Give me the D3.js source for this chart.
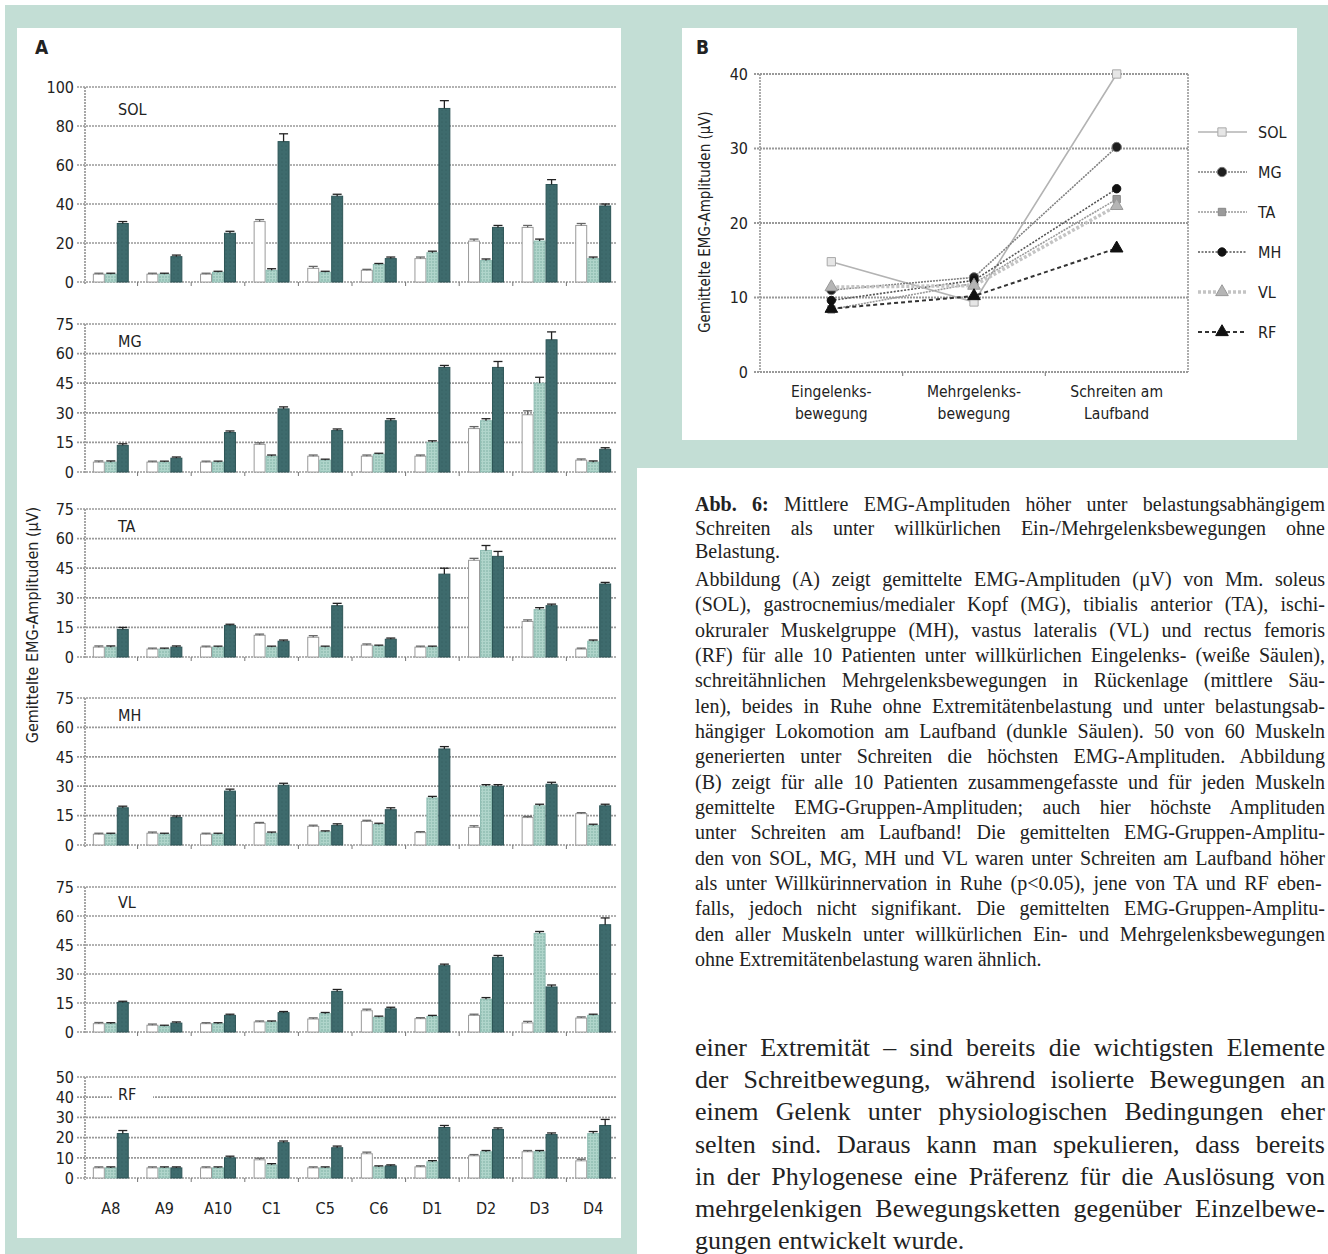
<!DOCTYPE html>
<html>
<head>
<meta charset="utf-8">
<script src="https://cdn.jsdelivr.net/npm/d3@7"></script>
<style>
  html, body { margin: 0; padding: 0; background: #fff; }
  #page { position: relative; width: 1328px; height: 1254px; overflow: hidden; }
  svg { display: block; }
  .sans { font-family: "DejaVu Sans Condensed", "DejaVu Sans", sans-serif; font-stretch: condensed; fill: #222; }
  .serif { font-family: "Liberation Serif", "Times New Roman", serif; fill: #222; }
</style>
</head>
<body>
<div id="page"></div>
<script>
// ---------- data: panel A (per patient, three movement conditions) ----------
const patients = ["A8", "A9", "A10", "C1", "C5", "C6", "D1", "D2", "D3", "D4"];

const solEin  = [4, 4, 4, 31, 7, 6, 12, 21, 28, 29];
const solMehr = [4, 4, 5, 6, 5, 9, 15, 11, 21, 12];
const solSchr = [30, 13, 25, 72, 44, 12, 89, 28, 50, 39];
const solErr  = [[0.5, 0.5, 0.5, 1, 1, 0.5, 0.8, 1, 1, 1],
                 [0.5, 0.5, 0.5, 0.8, 0.5, 0.5, 0.8, 0.8, 1, 0.8],
                 [1, 0.8, 1, 4, 1, 0.8, 4, 1, 2.5, 1]];

const mgEin  = [5, 5, 5, 14, 8, 8, 8, 22, 29, 6];
const mgMehr = [5, 5, 5, 8, 6, 9, 15, 26, 45, 5];
const mgSchr = [13.5, 7, 20, 32, 21, 26, 53, 53, 67, 11.5];
const mgErr  = [[0.6, 0.5, 0.5, 0.8, 0.6, 0.6, 0.6, 1, 2, 0.6],
                [0.6, 0.5, 0.5, 0.6, 0.5, 0.5, 0.8, 1, 3, 0.6],
                [0.8, 0.6, 0.8, 1, 0.8, 1, 1, 3, 4, 0.8]];

const taEin  = [5, 4, 5, 11, 10, 6, 5, 49, 18, 4];
const taMehr = [5, 4, 5, 5, 5, 5.5, 5, 54, 24, 8];
const taSchr = [14, 5, 16, 8, 26, 9, 42, 51, 26, 37];
const taErr  = [[0.6, 0.5, 0.5, 0.6, 0.8, 0.6, 0.5, 1, 0.8, 0.5],
                [0.6, 0.5, 0.5, 0.5, 0.5, 0.5, 0.5, 2.5, 1, 0.6],
                [1, 0.6, 0.6, 0.6, 1.2, 0.6, 3, 2.5, 0.8, 0.8]];

const mhEin  = [5.5, 6, 5.5, 11, 9.5, 12, 6.3, 9, 14, 16];
const mhMehr = [5.5, 5.5, 5.5, 6, 6.7, 10.5, 24, 30, 20, 10];
const mhSchr = [19, 14, 27.5, 30.5, 10, 18, 49, 30, 31, 20];
const mhErr  = [[0.5, 0.6, 0.5, 0.5, 0.6, 0.6, 0.5, 0.8, 0.6, 0.5],
                [0.5, 0.5, 0.5, 0.6, 0.5, 0.6, 0.8, 0.8, 0.8, 0.6],
                [0.8, 0.8, 1, 1, 0.8, 1, 1.2, 0.8, 1, 0.8]];

const vlEin  = [4.3, 3.5, 4.3, 5.2, 6.7, 11, 6.9, 8.6, 4.7, 7.2];
const vlMehr = [4.3, 3, 4.3, 5.2, 9.5, 7.6, 8, 17, 51, 8.6];
const vlSchr = [15.3, 4.6, 8.6, 10, 21, 12, 34.3, 38.6, 23.3, 55.5];
const vlErr  = [[0.6, 0.6, 0.5, 0.5, 0.6, 0.8, 0.5, 0.6, 0.8, 0.6],
                [0.5, 0.5, 0.5, 0.5, 0.6, 0.6, 0.6, 0.8, 1, 0.6],
                [0.6, 0.6, 0.6, 0.6, 1, 0.8, 0.8, 1, 1, 3.5]];

const rfEin  = [5, 5, 5, 9, 5, 12, 5.5, 11, 13, 8.5];
const rfMehr = [5, 5, 5, 6.5, 5, 5.5, 8, 13, 13, 22];
const rfSchr = [22, 5, 10, 17.5, 15, 6, 25, 24, 21.5, 26];
const rfErr  = [[0.5, 0.5, 0.5, 0.8, 0.5, 0.8, 0.5, 0.6, 0.6, 0.8],
                [0.5, 0.5, 0.5, 0.6, 0.5, 0.5, 0.6, 0.6, 0.6, 1],
                [1.5, 0.5, 0.8, 0.8, 0.8, 0.5, 1, 0.8, 0.8, 3]];

// ---------- data: panel B (group means per muscle) ----------
const bConditions = ["Eingelenks-|bewegung", "Mehrgelenks-|bewegung", "Schreiten am|Laufband"];
const bMuscles = ["SOL", "MG", "TA", "MH", "VL", "RF"];
const solMean = [14.8, 9.4, 40.0];
const mgMean  = [11.0, 12.7, 30.2];
const taMean  = [8.4, 11.9, 23.2];
const mhMean  = [9.6, 12.3, 24.6];
const vlMean  = [11.4, 11.6, 22.3];
const rfMean  = [8.5, 10.2, 16.6];
const bTicks  = [0, 10, 20, 30, 40];

// ---------- text ----------
const captionLines = [
  [["Abb. 6:", true], [" Mittlere EMG-Amplituden höher unter belastungsabhängigem", false]],
  [["Schreiten als unter willkürlichen Ein-/Mehrgelenksbewegungen ohne", false]],
  [["Belastung.", false]],
  [["Abbildung (A) zeigt gemittelte EMG-Amplituden (µV) von Mm. soleus", false]],
  [["(SOL), gastrocnemius/medialer Kopf (MG), tibialis anterior (TA), ischi-", false]],
  [["okruraler Muskelgruppe (MH), vastus lateralis (VL) und rectus femoris", false]],
  [["(RF) für alle 10 Patienten unter willkürlichen Eingelenks- (weiße Säulen),", false]],
  [["schreitähnlichen Mehrgelenksbewegungen in Rückenlage (mittlere Säu-", false]],
  [["len), beides in Ruhe ohne Extremitätenbelastung und unter belastungsab-", false]],
  [["hängiger Lokomotion am Laufband (dunkle Säulen). 50 von 60 Muskeln", false]],
  [["generierten unter Schreiten die höchsten EMG-Amplituden. Abbildung", false]],
  [["(B) zeigt für alle 10 Patienten zusammengefasste und für jeden Muskeln", false]],
  [["gemittelte EMG-Gruppen-Amplituden; auch hier höchste Amplituden", false]],
  [["unter Schreiten am Laufband! Die gemittelten EMG-Gruppen-Amplitu-", false]],
  [["den von SOL, MG, MH und VL waren unter Schreiten am Laufband höher", false]],
  [["als unter Willkürinnervation in Ruhe (p<0.05), jene  von TA und RF eben-", false]],
  [["falls, jedoch nicht signifikant. Die gemittelten EMG-Gruppen-Amplitu-", false]],
  [["den aller Muskeln unter willkürlichen Ein- und Mehrgelenksbewegungen", false]],
  [["ohne Extremitätenbelastung waren ähnlich.", false]]
];
const captionLast = [2, 18];
const bodyLines = [
  "einer Extremität – sind bereits die wichtigsten Elemente",
  "der Schreitbewegung, während isolierte Bewegungen an",
  "einem Gelenk unter physiologischen Bedingungen eher",
  "selten sind. Daraus kann man spekulieren, dass bereits",
  "in der Phylogenese eine Präferenz für die Auslösung von",
  "mehrgelenkigen Bewegungsketten gegenüber Einzelbewe-",
  "gungen entwickelt wurde."
];

// ---------- drawing ----------
const W = 1328, H = 1254;
const GREEN = "#c3ded5";
const svg = d3.select("#page").append("svg").attr("width", W).attr("height", H);

const defs = svg.append("defs");
const pl = defs.append("pattern").attr("id", "lightDots").attr("patternUnits", "userSpaceOnUse")
  .attr("width", 3).attr("height", 3);
pl.append("rect").attr("width", 3).attr("height", 3).attr("fill", "#b0d5cb");
pl.append("circle").attr("cx", 1).attr("cy", 1).attr("r", 0.75).attr("fill", "#78aa9f");
const pd = defs.append("pattern").attr("id", "darkDots").attr("patternUnits", "userSpaceOnUse")
  .attr("width", 4).attr("height", 4);
pd.append("rect").attr("width", 4).attr("height", 4).attr("fill", "#3e6b6d");
pd.append("circle").attr("cx", 2).attr("cy", 2).attr("r", 0.6).attr("fill", "#2f5759");

// frame
svg.append("rect").attr("x", 5).attr("y", 5).attr("width", W - 5).attr("height", H - 5).attr("fill", GREEN);
svg.append("rect").attr("x", 637).attr("y", 468).attr("width", W - 637).attr("height", H - 468).attr("fill", "#fff");
svg.append("rect").attr("x", 17).attr("y", 28).attr("width", 604).attr("height", 1210).attr("fill", "#fff");
svg.append("rect").attr("x", 682).attr("y", 28).attr("width", 615).attr("height", 412).attr("fill", "#fff");

// ---------- panel A ----------
const gA = svg.append("g");
gA.append("text").attr("class", "sans").attr("x", 35).attr("y", 54)
  .attr("font-size", 19).attr("font-weight", "bold").text("A");

gA.append("text").attr("class", "sans").attr("font-size", 16)
  .attr("transform", "translate(38,625) rotate(-90)").attr("text-anchor", "middle")
  .text("Gemittelte EMG-Amplituden (µV)");

const x = d3.scaleBand().domain(patients).range([84, 620]).paddingInner(0.33).paddingOuter(0.165);
const xi = d3.scaleBand().domain([0, 1, 2]).range([0, x.bandwidth()]);

const panels = [
  { name: "SOL", max: 100, step: 20, top: 87,   bottom: 282,  series: [solEin, solMehr, solSchr], err: solErr, ly: 22 },
  { name: "MG",  max: 75,  step: 15, top: 324,  bottom: 472,  series: [mgEin, mgMehr, mgSchr],    err: mgErr,  ly: 17 },
  { name: "TA",  max: 75,  step: 15, top: 509,  bottom: 657,  series: [taEin, taMehr, taSchr],    err: taErr,  ly: 17 },
  { name: "MH",  max: 75,  step: 15, top: 698,  bottom: 845,  series: [mhEin, mhMehr, mhSchr],    err: mhErr,  ly: 17 },
  { name: "VL",  max: 75,  step: 15, top: 887,  bottom: 1032, series: [vlEin, vlMehr, vlSchr],    err: vlErr,  ly: 15 },
  { name: "RF",  max: 50,  step: 10, top: 1077, bottom: 1178, series: [rfEin, rfMehr, rfSchr],    err: rfErr,  ly: 17 }
];
const barFill = ["#fff", "url(#lightDots)", "url(#darkDots)"];
const barStroke = ["#9a9a9a", "#8fbdb3", "#2d5557"];
const errColor = ["#666", "#222", "#222"];
const gridX1 = 77, gridX2 = 616, axisX = 85;

panels.forEach(p => {
  const y = d3.scaleLinear().domain([0, p.max]).range([p.bottom, p.top]);
  const g = gA.append("g");
  const ticks = d3.range(0, p.max + 0.001, p.step);

  // grid lines
  g.selectAll("line.grid").data(ticks).join("line")
    .attr("x1", gridX1).attr("x2", gridX2)
    .attr("y1", d => y(d)).attr("y2", d => y(d))
    .attr("stroke", "#999").attr("stroke-width", 1.7).attr("stroke-dasharray", "2,1");
  // y axis line
  g.append("line").attr("x1", axisX).attr("x2", axisX).attr("y1", p.top).attr("y2", p.bottom + 2)
    .attr("stroke", "#999").attr("stroke-width", 1.7).attr("stroke-dasharray", "2,1");
  // x ticks between patients
  g.selectAll("line.xt").data(patients.slice(1)).join("line")
    .attr("x1", d => x(d) - x.step() * x.paddingInner() / 2)
    .attr("x2", d => x(d) - x.step() * x.paddingInner() / 2)
    .attr("y1", p.bottom).attr("y2", p.bottom + 4)
    .attr("stroke", "#777").attr("stroke-width", 1);
  // tick labels
  g.selectAll("text.yl").data(ticks).join("text").attr("class", "sans")
    .attr("x", 74).attr("y", d => y(d)).attr("dy", "0.36em")
    .attr("text-anchor", "end").attr("font-size", 16).text(d => d);

  // muscle label
  const lab = g.append("g");
  lab.append("rect").attr("x", 113).attr("y", p.top + p.ly - 10).attr("width", 40).attr("height", 20).attr("fill", "#fff");
  lab.append("text").attr("class", "sans").attr("x", 118).attr("y", p.top + p.ly).attr("dy", "0.36em")
    .attr("font-size", 16).text(p.name);

  // bars
  p.series.forEach((vals, si) => {
    const bw = xi.bandwidth();
    g.selectAll("rect.b" + si).data(vals).join("rect")
      .attr("x", (d, i) => x(patients[i]) + xi(si) + 0.5)
      .attr("y", d => y(d))
      .attr("width", bw - 1)
      .attr("height", d => y(0) - y(d))
      .attr("fill", barFill[si]).attr("stroke", barStroke[si]).attr("stroke-width", 1);
    // error bars
    const eg = g.append("g").attr("stroke", errColor[si]).attr("stroke-width", 1.3);
    vals.forEach((d, i) => {
      const cx = x(patients[i]) + xi(si) + bw / 2;
      const e = p.err[si][i];
      eg.append("line").attr("x1", cx).attr("x2", cx).attr("y1", y(d)).attr("y2", y(d + e));
      eg.append("line").attr("x1", cx - 4.5).attr("x2", cx + 4.5).attr("y1", y(d + e)).attr("y2", y(d + e));
    });
  });
});

// category labels under the last panel
gA.selectAll("text.xl").data(patients).join("text").attr("class", "sans")
  .attr("x", d => x(d) + x.bandwidth() / 2).attr("y", 1208).attr("dy", "0.36em")
  .attr("text-anchor", "middle").attr("font-size", 16).text(d => d);

// ---------- panel B ----------
const gB = svg.append("g");
gB.append("text").attr("class", "sans").attr("x", 696).attr("y", 54)
  .attr("font-size", 19).attr("font-weight", "bold").text("B");
gB.append("text").attr("class", "sans").attr("font-size", 15)
  .attr("transform", "translate(710,222) rotate(-90)").attr("text-anchor", "middle")
  .text("Gemittelte EMG-Amplituden (µV)");

const xb = d3.scaleBand().domain(bConditions).range([760, 1188]);
const yb = d3.scaleLinear().domain([0, 40]).range([372, 74]);

gB.selectAll("line.grid").data(bTicks).join("line")
  .attr("x1", 754).attr("x2", 1188).attr("y1", d => yb(d)).attr("y2", d => yb(d))
  .attr("stroke", "#999").attr("stroke-width", 1.8).attr("stroke-dasharray", "2,1");
[760, 1188].forEach(xx => gB.append("line").attr("x1", xx).attr("x2", xx).attr("y1", yb(40)).attr("y2", yb(0))
  .attr("stroke", "#999").attr("stroke-width", 1.6).attr("stroke-dasharray", "2,1"));
gB.selectAll("line.xt").data(bConditions.slice(1)).join("line")
  .attr("x1", d => xb(d)).attr("x2", d => xb(d)).attr("y1", yb(0)).attr("y2", yb(0) + 4)
  .attr("stroke", "#888").attr("stroke-width", 1.2);
gB.selectAll("text.yl").data(bTicks).join("text").attr("class", "sans")
  .attr("x", 748).attr("y", d => yb(d)).attr("dy", "0.36em").attr("text-anchor", "end")
  .attr("font-size", 16).text(d => d);
bConditions.forEach(c => {
  const parts = c.split("|");
  parts.forEach((t, k) => gB.append("text").attr("class", "sans").attr("font-size", 15.5)
    .attr("x", xb(c) + xb.bandwidth() / 2).attr("y", 391 + k * 22).attr("dy", "0.36em")
    .attr("text-anchor", "middle").text(t));
});

const bSeries = [solMean, mgMean, taMean, mhMean, vlMean, rfMean];
const bStyle = [
  { stroke: "#b3b3b3", width: 1.6, dash: null,  marker: "square",   mfill: "#e6e6e6", mstroke: "#a8a8a8", size: 9 },
  { stroke: "#808080", width: 1.6, dash: "2,1", marker: "circle",   mfill: "#1e1e1e", mstroke: "#777",    size: 9 },
  { stroke: "#9a9a9a", width: 1.6, dash: "2,1", marker: "square",   mfill: "#9a9a9a", mstroke: "#888",    size: 8 },
  { stroke: "#555555", width: 1.6, dash: "2,1.5", marker: "circle", mfill: "#111",    mstroke: "#111",    size: 8 },
  { stroke: "#c4c4c4", width: 3.5, dash: "3,2", marker: "triangle", mfill: "#b5b5b5", mstroke: "#999",    size: 9 },
  { stroke: "#333333", width: 2,   dash: "4,3", marker: "triangle", mfill: "#111",    mstroke: "#111",    size: 9 }
];
const symMap = { square: d3.symbolSquare, circle: d3.symbolCircle, triangle: d3.symbolTriangle };
const cx = c => xb(c) + xb.bandwidth() / 2;

function drawMarker(g, st, px, py) {
  g.append("path").attr("d", d3.symbol().type(symMap[st.marker]).size(st.size * st.size * 0.85)())
    .attr("transform", `translate(${px},${py})`)
    .attr("fill", st.mfill).attr("stroke", st.mstroke).attr("stroke-width", 1);
}

bSeries.forEach((vals, si) => {
  const st = bStyle[si];
  const line = d3.line().x((d, i) => cx(bConditions[i])).y(d => yb(d));
  gB.append("path").attr("d", line(vals)).attr("fill", "none")
    .attr("stroke", st.stroke).attr("stroke-width", st.width)
    .attr("stroke-dasharray", st.dash);
});
bSeries.forEach((vals, si) => {
  vals.forEach((v, i) => drawMarker(gB, bStyle[si], cx(bConditions[i]), yb(v)));
});

// legend
bMuscles.forEach((m, i) => {
  const st = bStyle[i];
  const ly = 132 + i * 40;
  gB.append("line").attr("x1", 1198).attr("x2", 1247).attr("y1", ly).attr("y2", ly)
    .attr("stroke", st.stroke).attr("stroke-width", st.width).attr("stroke-dasharray", st.dash);
  drawMarker(gB, st, 1222, ly);
  gB.append("text").attr("class", "sans").attr("x", 1258).attr("y", ly).attr("dy", "0.36em")
    .attr("font-size", 16).text(m);
});

// ---------- caption and running text (justified lines) ----------
function textLine(parent, xx, yy, width, parts, justify, size) {
  const t = parent.append("text").attr("class", "serif").attr("x", xx).attr("y", yy).attr("font-size", size);
  parts.forEach(([s, bold]) => t.append("tspan").attr("font-weight", bold ? "bold" : null).text(s));
  if (justify) {
    const full = parts.map(p => p[0]).join("");
    const spaces = (full.match(/ /g) || []).length;
    const natural = t.node().getComputedTextLength();
    if (spaces > 0) t.style("word-spacing", ((width - natural) / spaces) + "px");
  }
  return t;
}

const gC = svg.append("g");
const capY = [511, 535, 558];
captionLines.forEach((parts, i) => {
  const yy = i < 3 ? capY[i] : 586 + (i - 3) * 25.33;
  textLine(gC, 695, yy, 630, parts, !captionLast.includes(i), 20);
});
bodyLines.forEach((s, i) => {
  textLine(gC, 695, 1056 + i * 32.2, 630, [[s, false]], i < bodyLines.length - 1, 26);
});
</script>
</body>
</html>
